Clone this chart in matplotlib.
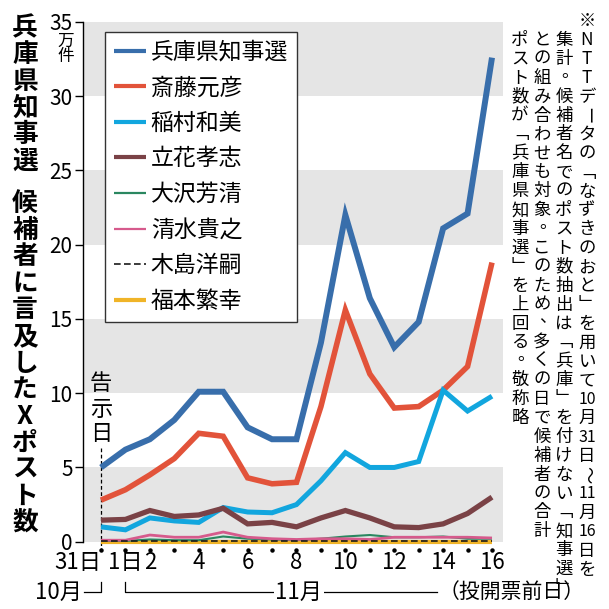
import matplotlib
matplotlib.use('Agg')
import matplotlib.pyplot as plt
from matplotlib.transforms import blended_transform_factory

plt.rcParams['font.family'] = ['Noto Sans CJK JP', 'DejaVu Sans']

# 10/31 .. 11/16
days = list(range(17))
x_ticks = [0, 1, 2, 4, 6, 8, 10, 12, 14, 16]
x_labels = ['31日', '1日', '2', '4', '6', '8', '10', '12', '14', '16']
y_ticks = [0, 5, 10, 15, 20, 25, 30, 35]

names = ['兵庫県知事選', '斎藤元彦', '稲村和美', '立花孝志',
         '大沢芳清', '清水貴之', '木島洋嗣', '福本繁幸']

# 万件
hyogo    = [5.0, 6.2, 6.9, 8.2, 10.1, 10.1, 7.7, 6.9, 6.9, 13.4, 22.0, 16.4, 13.1, 14.8, 21.1, 22.1, 32.6]
saito    = [2.8, 3.5, 4.5, 5.6, 7.3, 7.1, 4.3, 3.9, 4.0, 9.1, 15.6, 11.3, 9.0, 9.1, 10.2, 11.8, 18.8]
inamura  = [1.0, 0.8, 1.6, 1.4, 1.3, 2.3, 2.0, 1.95, 2.5, 4.1, 6.0, 5.0, 5.0, 5.4, 10.2, 8.8, 9.8]
tachibana = [1.45, 1.5, 2.1, 1.7, 1.8, 2.25, 1.2, 1.3, 1.0, 1.6, 2.1, 1.6, 1.0, 0.95, 1.2, 1.9, 3.0]
osawa    = [0.05, 0.05, 0.15, 0.1, 0.1, 0.35, 0.2, 0.15, 0.1, 0.2, 0.35, 0.45, 0.3, 0.3, 0.35, 0.2, 0.2]
shimizu  = [0.1, 0.1, 0.45, 0.3, 0.3, 0.65, 0.3, 0.2, 0.15, 0.2, 0.2, 0.15, 0.3, 0.3, 0.3, 0.3, 0.25]
kijima   = [0.03] * 17
fukumoto = [0.0] * 17

series = [hyogo, saito, inamura, tachibana, osawa, shimizu, kijima, fukumoto]
colors = ['#386eab', '#e2533a', '#12a6de', '#7a4246', '#2a8760', '#d65a8c', '#1a1a1a', '#f0b428']
widths = [4.3, 4.0, 3.6, 3.8, 1.5, 2.0, 1.2, 3.0]
styles = ['-', '-', '-', '-', '-', '-', (0, (4, 2)), '-']
zorders = [6, 4, 5, 6, 3, 3.2, 3.5, 2.5]

note = ['※NTTデータの「なずきのおと」を用いて10月31日～11月16日を',
        '集計。候補者名でのポスト数抽出は「兵庫」を付けない「知事選」',
        'との組み合わせも対象。このため、多くの日で候補者の合計',
        'ポスト数が「兵庫県知事選」を上回る。敬称略']

W = 609
fig = plt.figure(figsize=(6.09, 6.09), dpi=100)
ax = fig.add_axes([83 / W, 1 - 541.7 / W, 420 / W, 519.7 / W])


def px(x, y):
    return x / W, 1 - y / W


for lo in range(0, 35, 10):
    ax.axhspan(lo, lo + 5, color='#e5e5e5', lw=0, zorder=0)

lines = []
for vals, c, lw, ls, z in zip(series, colors, widths, styles, zorders):
    ln, = ax.plot(days, vals, color=c, lw=lw, ls=ls, zorder=z, clip_on=False,
                  solid_joinstyle='miter', solid_capstyle='butt')
    lines.append(ln)

ax.set_xlim(-0.736, 16.45)
ax.set_ylim(0, 35)
for s in ['top', 'right', 'bottom']:
    ax.spines[s].set_visible(False)
ax.spines['left'].set_linewidth(1.0)

ax.set_yticks(y_ticks)
ax.tick_params(axis='y', length=5.5, width=1, pad=2, labelsize=15)
ax.set_xticks(x_ticks, x_labels)
ax.tick_params(axis='x', length=0, pad=6.5, labelsize=16)
ax.get_xticklabels()[0].set_ha('right')

# day dots under the axis
ax.plot(days, [-0.56] * len(days), 'o', color='k', ms=2.2, clip_on=False)

# 告示日
ax.plot([0, 0], [6.3, -0.56], color='k', lw=0.9, ls=(0, (3, 2)), clip_on=False)
for i, ch in enumerate('告示日'):
    fig.text(*px(101, 384 + i * 25), ch, fontsize=16, ha='center', va='center')

# unit
fig.text(*px(66, 41), '万', fontsize=12, ha='center', va='center')
fig.text(*px(66, 57), '件', fontsize=12, ha='center', va='center')

# month brackets
tr = blended_transform_factory(ax.transData, ax.transAxes)
yb = (541.7 - 592) / 519.7
yt = (541.7 - 582) / 519.7
ax.plot([-0.7, 0, 0], [yb, yb, yt], transform=tr, color='k', lw=0.9, clip_on=False)
ax.plot([1, 1, 13.75], [yt, yb, yb], transform=tr, color='k', lw=0.9, clip_on=False)
ax.text(-0.76, yb, '10月', transform=tr, fontsize=16, ha='right', va='center')
ax.text(8.1, yb, '11月', transform=tr, fontsize=16, ha='center', va='center',
        bbox=dict(facecolor='white', edgecolor='none', pad=1))
ax.text(13.82, yb, '（投開票前日）', transform=tr, fontsize=15, ha='left', va='center')

leg = ax.legend(lines, names, loc='upper left', bbox_to_anchor=(0.052, 0.981),
                borderaxespad=0, fancybox=False, framealpha=1, edgecolor='#333333',
                fontsize=16.5, handlelength=1.4, handletextpad=0.22,
                labelspacing=0.55, borderpad=0.38)
leg.get_frame().set_linewidth(1.0)
for hl, lw in zip(leg.get_lines(), [3, 3, 3, 3, 1.6, 1.6, 1.2, 3]):
    hl.set_linewidth(lw)

# left title, vertical
title = '兵庫県知事選 候補者に言及したXポスト数'
yy = 28
for ch in title:
    if ch == ' ':
        yy += 26.6 * 0.6
        continue
    fig.text(*px(25, yy), ch, fontsize=18.5, fontweight='bold', ha='center', va='center')
    yy += 26.6

# right note, vertical
vert = {'「': '\ufe41', '」': '\ufe42'}
rot = {'ー': -90, '～': -90}
col_x = [587, 564, 542, 520]
col_y0 = [21.5, 40, 40, 40]
pitch = 18.9
for text, cx, y0 in zip(note, col_x, col_y0):
    toks = []
    i = 0
    while i < len(text):
        if text[i].isdigit():
            j = i
            while j < len(text) and text[j].isdigit():
                j += 1
            toks.append(text[i:j])
            i = j
        else:
            toks.append(text[i])
            i += 1
    for k, t in enumerate(toks):
        cy = y0 + k * pitch
        if t in '。、':
            fig.text(*px(cx + 6, cy - 6), t, fontsize=12.5, ha='center', va='center')
        elif t.isdigit():
            fig.text(*px(cx, cy), t, fontsize=11.5, ha='center', va='center')
        else:
            fig.text(*px(cx, cy), vert.get(t, t), fontsize=12.5, ha='center', va='center',
                     rotation=rot.get(t, 0), rotation_mode='anchor')

fig.savefig('out.png', dpi=100)
